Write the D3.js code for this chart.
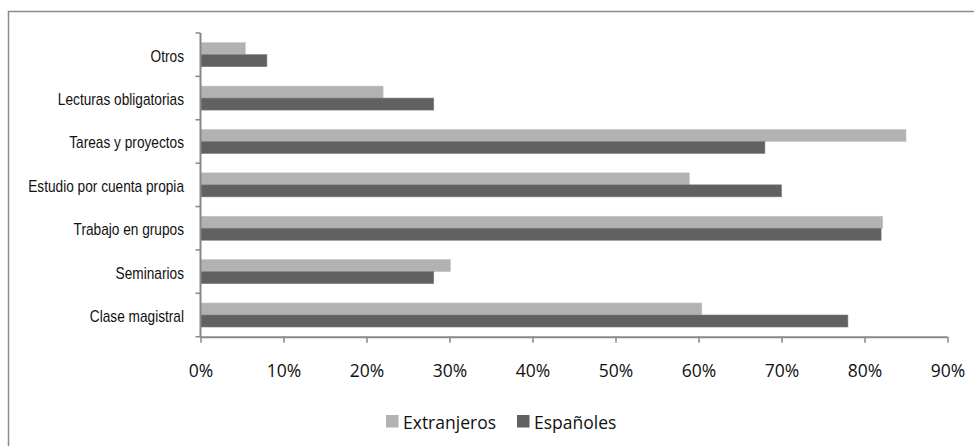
<!DOCTYPE html>
<html>
<head>
<meta charset="utf-8">
<script src="https://cdn.jsdelivr.net/npm/d3@7"></script>
<style>
  html, body { margin: 0; padding: 0; background: #fff; }
  svg { display: block; }
</style>
</head>
<body>
<svg id="chart" width="974" height="446"></svg>
<script>
const categories = ["Otros", "Lecturas obligatorias", "Tareas y proyectos", "Estudio por cuenta propia", "Trabajo en grupos", "Seminarios", "Clase magistral"];
const seriesNames = ["Extranjeros", "Españoles"];
const extranjeros = [5.4, 22, 85, 58.9, 82.2, 30.1, 60.4];
const espanoles = [8, 28.1, 68, 70, 82, 28.1, 78];
const xTicks = [0, 10, 20, 30, 40, 50, 60, 70, 80, 90];
const colors = ["#b2b2b2", "#616161"];

const svg = d3.select("#chart");

// outer frame
svg.append("rect")
  .attr("x", 8.5).attr("y", 11.5)
  .attr("width", 980).attr("height", 450)
  .attr("fill", "none").attr("stroke", "#8c8c8c").attr("stroke-width", 1.5);

const x = d3.scaleLinear().domain([0, 90]).range([200.5, 947.5]);
const y = d3.scaleBand().domain(categories).range([33, 336.7])
  .paddingInner(0.447).paddingOuter(0.2235);
const ySub = d3.scaleBand().domain(seriesNames).range([0, y.bandwidth()]);

const rows = categories.map((c, i) => ({ cat: c, vals: [extranjeros[i], espanoles[i]] }));

const g = svg.append("g");
rows.forEach(r => {
  seriesNames.forEach((s, j) => {
    g.append("rect")
      .attr("x", x(0))
      .attr("y", y(r.cat) + ySub(s))
      .attr("width", x(r.vals[j]) - x(0))
      .attr("height", ySub.bandwidth())
      .attr("fill", colors[j])
      .attr("stroke", j === 0 ? "#c4c4c4" : "#7a7a7a")
      .attr("stroke-width", 0.6);
  });
});

// y axis with ticks at category boundaries
const axisColor = "#878787";
const yTop = 33, yBottom = 336.7;
svg.append("line")
  .attr("x1", x(0)).attr("x2", x(0))
  .attr("y1", yTop).attr("y2", yBottom)
  .attr("stroke", axisColor).attr("stroke-width", 2);
for (let i = 0; i <= categories.length; i++) {
  const yy = yTop + i * (yBottom - yTop) / categories.length;
  svg.append("line")
    .attr("x1", x(0) - 5).attr("x2", x(0))
    .attr("y1", yy).attr("y2", yy)
    .attr("stroke", axisColor).attr("stroke-width", 1.5);
}

// category labels (condensed horizontally to mimic a narrow face)
svg.append("g").selectAll("text").data(categories).join("text")
  .attr("transform", d => `translate(184,${y(d) + y.bandwidth() / 2}) scale(0.855,1)`)
  .attr("dy", "0.43em")
  .attr("text-anchor", "end")
  .attr("font-family", "'Liberation Sans', Arial, sans-serif")
  .attr("font-size", 16)
  .attr("fill", "#111")
  .text(d => d);

// x axis
const xAxis = d3.axisBottom(x).tickValues(xTicks).tickSize(6).tickFormat(d => d + "%");
const xg = svg.append("g").attr("transform", `translate(0,${yBottom})`).call(xAxis);
xg.select(".domain").attr("stroke", axisColor).attr("stroke-width", 2)
  .attr("d", `M${x(0)},0.5H${x(90)}`);
xg.selectAll(".tick line").attr("stroke", axisColor).attr("stroke-width", 1.5);
xg.selectAll(".tick text")
  .attr("y", 40).attr("dy", 0)
  .attr("font-family", "'Open Sans', sans-serif")
  .attr("font-size", 17.5)
  .attr("fill", "#111");

// legend
const legend = svg.append("g");
const legendX = [386, 517];
seriesNames.forEach((s, j) => {
  legend.append("rect")
    .attr("x", legendX[j]).attr("y", 415)
    .attr("width", 12.5).attr("height", 12.5)
    .attr("fill", colors[j]);
  legend.append("text")
    .attr("x", legendX[j] + 17).attr("y", 429)
    .attr("font-family", "'Open Sans', sans-serif")
    .attr("font-size", 17.5)
    .attr("fill", "#111")
    .text(s);
});
</script>
</body>
</html>
